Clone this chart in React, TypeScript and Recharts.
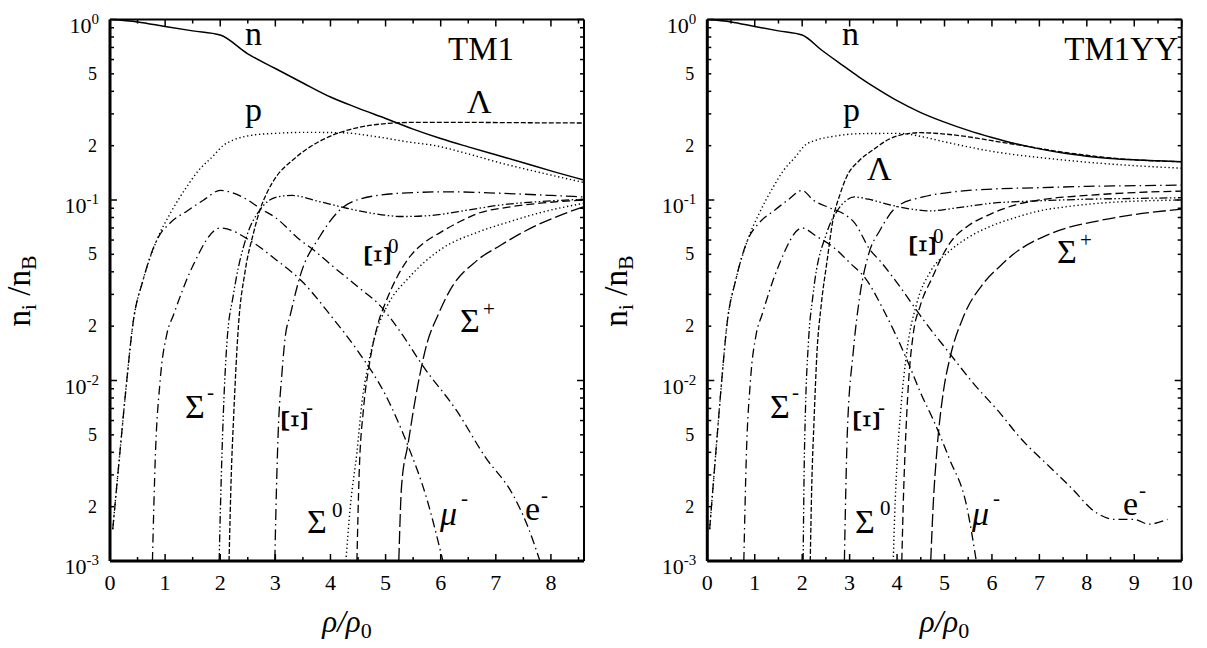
import React from 'react';
import { LineChart, Line, XAxis, YAxis } from 'recharts';

type Pt = [number, number];

// shared low-density part (before hyperons appear the two models agree)
const pLow: Pt[] = [[0.05, 0.0015], [0.18, 0.004], [0.3, 0.0097], [0.42, 0.021], [0.6, 0.036], [0.85, 0.06], [1.1, 0.085], [1.39, 0.118], [1.6, 0.145], [1.87, 0.175], [2.05, 0.2]];
const eLow: Pt[] = [[0.05, 0.0015], [0.18, 0.004], [0.3, 0.0097], [0.42, 0.021], [0.6, 0.036], [0.85, 0.06], [1.1, 0.075], [1.4, 0.087], [1.7, 0.1], [2, 0.113]];
const muLow: Pt[] = [[0.77, 0.001], [0.82, 0.0036], [0.91, 0.01], [1.03, 0.018], [1.15, 0.023], [1.5, 0.043], [2, 0.07]];

// TM1
const tm1N: Pt[] = [[0, 1], [0.5, 0.97], [1, 0.915], [1.5, 0.865], [2, 0.82], [2.5, 0.645], [3, 0.535], [3.5, 0.445], [4, 0.372], [4.5, 0.323], [5, 0.283], [5.5, 0.247], [6, 0.219], [6.5, 0.197], [7, 0.178], [7.5, 0.161], [8, 0.145], [8.6, 0.129]];
const tm1P: Pt[] = [...pLow, [2.24, 0.215], [2.6, 0.229], [3, 0.234], [3.5, 0.237], [4.2, 0.236], [4.8, 0.225], [5.4, 0.21], [5.9, 0.2], [6.5, 0.18], [7.1, 0.16], [7.8, 0.142], [8.6, 0.125]];
const tm1Lambda: Pt[] = [[2.16, 0.001], [2.2, 0.003], [2.24, 0.006], [2.33, 0.02], [2.45, 0.04], [2.6, 0.065], [2.72, 0.088], [2.85, 0.11], [3.02, 0.135], [3.3, 0.165], [3.63, 0.197], [4, 0.226], [4.5, 0.252], [5, 0.265], [5.5, 0.269], [6.5, 0.269], [7.5, 0.268], [8.6, 0.267]];
const tm1SigmaM: Pt[] = [[1.98, 0.001], [2.02, 0.003], [2.06, 0.007], [2.12, 0.016], [2.24, 0.03], [2.48, 0.063], [2.72, 0.088], [3.03, 0.104], [3.3, 0.106], [3.8, 0.098], [4.3, 0.09], [4.8, 0.084], [5.3, 0.081], [5.8, 0.082], [6.5, 0.088], [7.1, 0.094], [7.8, 0.098], [8.6, 0.101]];
const tm1XiM: Pt[] = [[2.99, 0.001], [3.02, 0.0025], [3.05, 0.005], [3.12, 0.011], [3.18, 0.0175], [3.27, 0.023], [3.45, 0.038], [3.81, 0.063], [4.17, 0.088], [4.48, 0.1], [5.26, 0.109], [6.17, 0.111], [7.08, 0.109], [8, 0.106], [8.6, 0.104]];
const tm1Xi0: Pt[] = [[4.48, 0.001], [4.52, 0.003], [4.6, 0.007], [4.7, 0.012], [4.85, 0.02], [5.02, 0.028], [5.2, 0.037], [5.44, 0.0485], [5.7, 0.058], [5.99, 0.066], [6.35, 0.076], [6.71, 0.085], [7.2, 0.091], [7.8, 0.096], [8.6, 0.1]];
const tm1Sigma0: Pt[] = [[4.28, 0.001], [4.36, 0.002], [4.48, 0.004], [4.57, 0.0075], [4.68, 0.012], [4.84, 0.019], [5.02, 0.0256], [5.44, 0.0376], [5.99, 0.053], [6.71, 0.067], [7.2, 0.075], [7.8, 0.085], [8.6, 0.096]];
const tm1SigmaP: Pt[] = [[5.24, 0.001], [5.29, 0.0026], [5.41, 0.0045], [5.57, 0.0089], [5.75, 0.016], [5.95, 0.023], [6.17, 0.0317], [6.65, 0.046], [7.08, 0.056], [7.68, 0.071], [8.2, 0.083], [8.6, 0.092]];
const tm1Mu: Pt[] = [...muLow, [2.6, 0.058], [3, 0.047], [3.5, 0.035], [4, 0.023], [4.5, 0.0145], [5, 0.0083], [5.4, 0.0044], [5.75, 0.0022], [6.04, 0.001]];
const tm1E: Pt[] = [...eLow, [2.5, 0.1], [2.72, 0.09], [3, 0.08], [3.45, 0.06], [3.69, 0.053], [4, 0.044], [4.5, 0.033], [4.9, 0.026], [5.3, 0.018], [5.68, 0.012], [6.29, 0.0068], [6.8, 0.0038], [7.32, 0.0023], [7.6, 0.0015], [7.8, 0.001]];

// TM1YY
const yyN: Pt[] = [[0, 1], [0.5, 0.97], [1, 0.915], [1.5, 0.865], [2, 0.82], [2.4, 0.68], [2.8, 0.57], [3.2, 0.48], [3.6, 0.41], [4, 0.355], [4.5, 0.305], [5, 0.27], [5.5, 0.243], [6, 0.222], [6.5, 0.205], [7, 0.192], [7.5, 0.182], [8, 0.175], [8.5, 0.17], [9, 0.167], [9.5, 0.165], [10, 0.163]];
const yyP: Pt[] = [...pLow, [2.3, 0.215], [2.65, 0.225], [3.2, 0.233], [4.06, 0.234], [4.5, 0.225], [5, 0.21], [5.5, 0.197], [6, 0.186], [6.5, 0.178], [7, 0.172], [8, 0.162], [9, 0.155], [10, 0.15]];
const yyLambda: Pt[] = [[2.17, 0.001], [2.2, 0.0025], [2.25, 0.006], [2.31, 0.014], [2.4, 0.026], [2.52, 0.045], [2.65, 0.078], [2.8, 0.108], [2.94, 0.135], [3.2, 0.165], [3.5, 0.19], [3.8, 0.215], [4.1, 0.23], [4.5, 0.236], [5, 0.232], [5.5, 0.224], [6, 0.213], [6.5, 0.203], [7, 0.193], [7.5, 0.184], [8, 0.177], [8.5, 0.171], [9, 0.167], [10, 0.163]];
const yySigmaM: Pt[] = [[2.02, 0.001], [2.04, 0.003], [2.07, 0.007], [2.13, 0.016], [2.23, 0.03], [2.52, 0.066], [2.75, 0.088], [2.94, 0.1], [3.1, 0.104], [3.4, 0.101], [3.85, 0.094], [4.3, 0.089], [4.7, 0.087], [5.2, 0.09], [6, 0.096], [7, 0.099], [8, 0.101], [9, 0.102], [10, 0.103]];
const yyXiM: Pt[] = [[2.89, 0.001], [2.92, 0.0025], [2.95, 0.005], [3.08, 0.0147], [3.22, 0.03], [3.4, 0.05], [3.64, 0.068], [4, 0.092], [4.55, 0.104], [5.2, 0.111], [6, 0.115], [7, 0.117], [8, 0.119], [9, 0.12], [10, 0.121]];
const yyXi0: Pt[] = [[4.1, 0.001], [4.14, 0.0025], [4.17, 0.0041], [4.24, 0.0096], [4.34, 0.018], [4.49, 0.026], [4.76, 0.038], [4.9, 0.046], [5.12, 0.058], [5.5, 0.072], [5.9, 0.082], [6.5, 0.094], [7, 0.1], [8, 0.106], [9, 0.11], [10, 0.112]];
const yySigma0: Pt[] = [[3.92, 0.001], [3.95, 0.0018], [4, 0.0035], [4.07, 0.0065], [4.21, 0.0147], [4.42, 0.027], [4.7, 0.04], [5.1, 0.052], [5.5, 0.062], [6, 0.072], [6.5, 0.08], [7, 0.087], [7.6, 0.092], [8.5, 0.097], [10, 0.1]];
const yySigmaP: Pt[] = [[4.71, 0.001], [4.76, 0.002], [4.84, 0.0041], [4.98, 0.0088], [5.12, 0.0135], [5.4, 0.0226], [5.82, 0.0345], [6.17, 0.043], [6.45, 0.05], [7.23, 0.065], [8.28, 0.077], [9, 0.083], [10, 0.089]];
const yyMu: Pt[] = [...muLow, [2.3, 0.063], [2.65, 0.055], [3, 0.045], [3.36, 0.036], [3.7, 0.025], [4.21, 0.013], [4.5, 0.0085], [4.77, 0.006], [5.1, 0.0037], [5.47, 0.002], [5.67, 0.001]];
const yyE: Pt[] = [...eLow, [2.23, 0.1], [2.6, 0.09], [2.9, 0.083], [3.1, 0.075], [3.43, 0.053], [3.64, 0.046], [4.1, 0.032], [4.56, 0.0216], [5.12, 0.014], [5.6, 0.0097], [6.17, 0.0066], [6.6, 0.0048], [7.23, 0.0033], [7.7, 0.0025], [8.14, 0.0019], [8.6, 0.0017], [9, 0.0017], [9.3, 0.0016], [9.7, 0.0017]];

// line styles per particle
const STYLE: Record<string, { dash?: string; w: number }> = {
  n: { w: 1.5 },
  p: { dash: '1.3 2.7', w: 1.4 },
  lambda: { dash: '5 2', w: 1.3 },
  sigmaM: { dash: '8 2.5 1.5 2.5 1.5 2.5', w: 1.3 },
  xiM: { dash: '11 4 1.5 4', w: 1.3 },
  xi0: { dash: '8 4', w: 1.3 },
  sigma0: { dash: '1.3 2.7', w: 1.4 },
  sigmaP: { dash: '13 4', w: 1.3 },
  mu: { dash: '9 4 1.5 4', w: 1.3 },
  e: { dash: '9 4 1.5 4', w: 1.3 },
};

const tm1Series: [string, Pt[]][] = [
  ['n', tm1N], ['p', tm1P], ['lambda', tm1Lambda], ['sigmaM', tm1SigmaM], ['xiM', tm1XiM],
  ['xi0', tm1Xi0], ['sigma0', tm1Sigma0], ['sigmaP', tm1SigmaP], ['mu', tm1Mu], ['e', tm1E],
];
const yySeries: [string, Pt[]][] = [
  ['n', yyN], ['p', yyP], ['lambda', yyLambda], ['sigmaM', yySigmaM], ['xiM', yyXiM],
  ['xi0', yyXi0], ['sigma0', yySigma0], ['sigmaP', yySigmaP], ['mu', yyMu], ['e', yyE],
];

const yTicks: number[] = [];
for (let e = -3; e < 0; e++) for (let m = 1; m < 10; m++) yTicks.push(+(m * Math.pow(10, e)).toPrecision(3));
yTicks.push(1);
const halfSteps = (max: number) => Array.from({ length: Math.floor(max * 2) + 1 }, (_, i) => i / 2);

const FONT = "'Liberation Serif', 'Times New Roman', serif";
const serif = { fontFamily: FONT };

const decade = (v: number) => {
  const e = Math.floor(Math.log10(v) + 1e-6);
  return { e, m: Math.round(v / Math.pow(10, e)) };
};
const isWhole = (v: number) => Math.abs(v - Math.round(v)) < 1e-6;

function YTickLeft(props: any) {
  const { x, y, payload } = props;
  const { e, m } = decade(payload.value);
  return (
    <g>
      <line x1={x} x2={x + (m === 1 ? 7 : 4)} y1={y} y2={y} stroke="#000" strokeWidth={1.5} />
      {m === 1 && (
        <text x={x - 11} y={y + 13} textAnchor="end" fontSize={22} style={serif} fill="#000">
          10<tspan dy={-9} fontSize={15}>{e === 0 ? '0' : `-${-e}`}</tspan>
        </text>
      )}
      {(m === 2 || m === 5) && (
        <text x={x - 13} y={y + 6} textAnchor="end" fontSize={18} style={serif} fill="#000">{m}</text>
      )}
    </g>
  );
}

function YTickRight(props: any) {
  const { x, y, payload } = props;
  const { m } = decade(payload.value);
  return <line x1={x} x2={x - (m === 1 ? 7 : 4)} y1={y} y2={y} stroke="#000" strokeWidth={1.5} />;
}

function XTickBottom(props: any) {
  const { x, y, payload } = props;
  const major = isWhole(payload.value);
  return (
    <g>
      <line x1={x} x2={x} y1={y} y2={y - (major ? 7 : 4)} stroke="#000" strokeWidth={1.5} />
      {major && (
        <text x={x} y={y + 29} textAnchor="middle" fontSize={22} style={serif} fill="#000">{payload.value}</text>
      )}
    </g>
  );
}

function XTickTop(props: any) {
  const { x, y, payload } = props;
  const major = isWhole(payload.value);
  return <line x1={x} x2={x} y1={y} y2={y + (major ? 7 : 4)} stroke="#000" strokeWidth={1.5} />;
}

interface PanelProps {
  left: number;
  xMax: number;
  series: [string, Pt[]][];
  margin: { top: number; right: number; bottom: number; left: number };
}

function Panel({ left, xMax, series, margin }: PanelProps) {
  const xTicks = halfSteps(xMax);
  return (
    <div style={{ position: 'absolute', left, top: 0 }}>
      <LineChart width={600} height={648} margin={margin}>
        <XAxis xAxisId="b" dataKey="x" type="number" domain={[0, xMax]} ticks={xTicks} interval={0}
          allowDataOverflow height={60} tickSize={0} tickMargin={0} tickLine={false}
          axisLine={{ stroke: '#000', strokeWidth: 3 }} tick={(p: any) => <XTickBottom {...p} />} />
        <XAxis xAxisId="t" orientation="top" dataKey="x" type="number" domain={[0, xMax]} ticks={xTicks} interval={0}
          allowDataOverflow height={10} tickSize={0} tickMargin={0} tickLine={false}
          axisLine={{ stroke: '#000', strokeWidth: 2 }} tick={(p: any) => <XTickTop {...p} />} />
        <YAxis yAxisId="l" scale="log" type="number" domain={[0.001, 1]} ticks={yTicks} interval={0}
          allowDataOverflow width={60} tickSize={0} tickMargin={0} tickLine={false}
          axisLine={{ stroke: '#000', strokeWidth: 3 }} tick={(p: any) => <YTickLeft {...p} />} />
        <YAxis yAxisId="r" orientation="right" scale="log" type="number" domain={[0.001, 1]} ticks={yTicks} interval={0}
          allowDataOverflow width={10} tickSize={0} tickMargin={0} tickLine={false}
          axisLine={{ stroke: '#000', strokeWidth: 2 }} tick={(p: any) => <YTickRight {...p} />} />
        {series.map(([key, pts]) => (
          <Line
            key={key}
            xAxisId="b"
            yAxisId="l"
            data={pts.map(([x, y]) => ({ x, y }))}
            dataKey="y"
            type="monotone"
            stroke="#000"
            strokeWidth={STYLE[key].w}
            strokeDasharray={STYLE[key].dash}
            dot={false}
            activeDot={false}
            isAnimationActive={false}
          />
        ))}
      </LineChart>
    </div>
  );
}

// particle name with a raised charge, optionally with the Xi glyph turned on its side
function Tag({ x, y, main, sup, italic, turned, supDx = 0, supDy = -18 }: any) {
  return (
    <g style={serif} fill="#000">
      {turned ? (
        <text x={x} y={y} fontSize={37} textAnchor="middle" dominantBaseline="central" transform={`rotate(90 ${x} ${y})`}>{main}</text>
      ) : (
        <text x={x} y={y} fontSize={34} fontStyle={italic ? 'italic' : 'normal'}>{main}</text>
      )}
      {sup && <text x={x + supDx} y={y + supDy} fontSize={21}>{sup}</text>}
    </g>
  );
}

function AxisTitles({ plotLeft, plotRight }: { plotLeft: number; plotRight: number }) {
  const cx = (plotLeft + plotRight) / 2;
  const ty = 291;
  const tx = plotLeft - 80;
  return (
    <g style={serif} fill="#000">
      <text x={cx} y={632} textAnchor="middle" fontSize={31} fontStyle="italic">
        ρ/ρ<tspan fontSize={22} dy={6} fontStyle="normal">0</tspan>
      </text>
      <text x={tx} y={ty} textAnchor="middle" fontSize={33} transform={`rotate(-90 ${tx} ${ty})`}>
        n<tspan fontSize={22} dy={6}>i</tspan><tspan dy={-6}> /n</tspan><tspan fontSize={22} dy={6}>B</tspan>
      </text>
    </g>
  );
}

export default function App() {
  return (
    <div style={{ position: 'absolute', left: 0, top: 0, width: 1207, height: 648, background: '#fff', overflow: 'hidden' }}>
      <Panel left={0} xMax={8.6} series={tm1Series} margin={{ top: 9.5, right: 6, bottom: 27, left: 50 }} />
      <Panel left={600} xMax={10} series={yySeries} margin={{ top: 9.5, right: 8.3, bottom: 27, left: 47.3 }} />
      <svg width={1207} height={648} style={{ position: 'absolute', left: 0, top: 0, pointerEvents: 'none' }}>
        <AxisTitles plotLeft={110} plotRight={584} />
        <AxisTitles plotLeft={707.3} plotRight={1181.7} />

        <g style={serif} fill="#000" fontSize={34}>
          <text x={245} y={45}>n</text>
          <text x={245} y={121}>p</text>
          <text x={448} y={60} fontSize={33}>TM1</text>
          <text x={467} y={113}>Λ</text>
          <text x={842} y={45}>n</text>
          <text x={843} y={121}>p</text>
          <text x={1178} y={60} fontSize={33} textAnchor="end">TM1YY</text>
          <text x={867} y={180}>Λ</text>
        </g>

        <Tag x={185} y={418} main="Σ" sup="-" supDx={22} supDy={-19} />
        <Tag x={294} y={421} main="Ξ" sup="-" turned supDx={12} supDy={-7} />
        <Tag x={377} y={256} main="Ξ" sup="0" turned supDx={11} supDy={-3} />
        <Tag x={460} y={332} main="Σ" sup="+" supDx={23} supDy={-16} />
        <Tag x={307} y={533} main="Σ" sup="0" supDx={25} supDy={-16} />
        <Tag x={440} y={525} main="μ" sup="-" italic supDx={21} supDy={-20} />
        <Tag x={525} y={520} main="e" sup="-" supDx={16} supDy={-18} />

        <Tag x={770} y={418} main="Σ" sup="-" supDx={22} supDy={-19} />
        <Tag x={866} y={421} main="Ξ" sup="-" turned supDx={12} supDy={-7} />
        <Tag x={922} y={246} main="Ξ" sup="0" turned supDx={11} supDy={-3} />
        <Tag x={1057} y={263} main="Σ" sup="+" supDx={23} supDy={-16} />
        <Tag x={855} y={533} main="Σ" sup="0" supDx={25} supDy={-18} />
        <Tag x={972} y={525} main="μ" sup="-" italic supDx={21} supDy={-20} />
        <Tag x={1123} y={515} main="e" sup="-" supDx={16} supDy={-18} />
      </svg>
    </div>
  );
}
